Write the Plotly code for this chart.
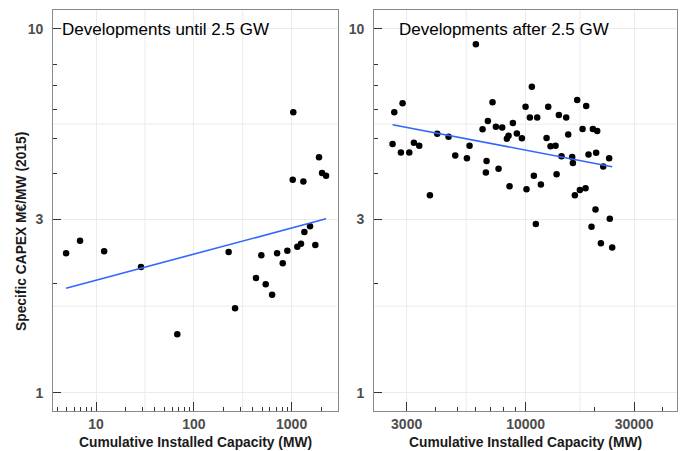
import numpy as np
import plotly.graph_objects as go

# ---------------- data ----------------
left_x = [4.94, 6.86, 12.1, 28.8, 67.7, 227, 264, 432, 490, 543, 631, 710, 811, 904,
          1143, 1247, 1350, 1542, 1747, 1040, 1026, 1318, 1905, 2046, 2249]
left_y = [2.42, 2.62, 2.45, 2.22, 1.45, 2.44, 1.71, 2.07, 2.39, 1.99, 1.86, 2.42, 2.27, 2.46,
          2.52, 2.57, 2.77, 2.87, 2.55, 5.90, 3.85, 3.81, 4.44, 4.02, 3.95]

right_x = [2647, 2879, 2602, 2831, 3081, 3228, 3408, 3797, 4089, 4585, 4906, 5521, 5671, 6045,
           6468, 6824, 7155, 6736, 6690, 7402, 7604, 7889, 8274, 8414, 8500, 8790, 9155, 9630,
           9993, 10090, 10440, 10650, 10870, 11245, 11090, 11670, 12360, 12570, 12870, 13540,
           13680, 14000, 14380, 15080, 15390, 16020, 16130, 16460, 16850, 17320, 17790, 18340,
           18460, 18900, 19750, 20280, 20420, 20640, 21930, 23290, 23440, 19480, 21420, 24020]
right_y = [5.90, 6.25, 4.83, 4.58, 4.58, 4.87, 4.78, 3.49, 5.15, 5.06, 4.49, 4.41, 4.78, 9.08,
           5.30, 5.59, 6.29, 4.34, 4.03, 5.39, 4.13, 5.36, 4.99, 5.09, 3.70, 5.52, 5.16, 5.01,
           6.11, 3.63, 5.71, 6.94, 3.95, 5.71, 2.91, 3.74, 5.02, 6.11, 4.76, 4.78,
           3.99, 5.80, 4.47, 5.71, 5.13, 4.45, 4.28, 3.49, 6.38, 3.61, 5.31, 3.65,
           6.14, 4.52, 5.31, 3.19, 4.57, 5.24, 4.19, 4.41, 3.01, 2.86, 2.58, 2.51]

left_title = "Developments until 2.5 GW"
right_title = "Developments after 2.5 GW"
y_label = "Specific CAPEX M€/MW (2015)"
x_label = "Cumulative Installed Capacity (MW)"

left_xticks = [10, 100, 1000]
right_xticks = [3000, 10000, 30000]
y_ticks = [1, 3, 10]
y_minor = [2, 4, 5, 6, 7, 8]
left_xminor = [4, 5, 6, 7, 8, 9, 20, 30, 40, 50, 60, 70, 80, 90,
               200, 300, 400, 500, 600, 700, 800, 900, 2000]
right_xminor = [4000, 5000, 6000, 7000, 8000, 9000, 20000, 40000]

# ---------------- fits (log-log linear model) ----------------
def loglog_fit(xs, ys):
    lx, ly = np.log10(xs), np.log10(ys)
    b, a = np.polyfit(lx, ly, 1)
    xx = np.linspace(lx.min(), lx.max(), 50)
    return 10 ** xx, 10 ** (a + b * xx)

lfx, lfy = loglog_fit(np.array(left_x), np.array(left_y))
rfx, rfy = loglog_fit(np.array(right_x), np.array(right_y))

fig = go.Figure()
pt = dict(color="black", size=6.5)
fig.add_trace(go.Scatter(x=left_x, y=left_y, mode="markers", marker=pt,
                         xaxis="x", yaxis="y", showlegend=False))
fig.add_trace(go.Scatter(x=lfx, y=lfy, mode="lines", line=dict(color="#3366FF", width=1.6),
                         xaxis="x", yaxis="y", showlegend=False))
fig.add_trace(go.Scatter(x=right_x, y=right_y, mode="markers", marker=pt,
                         xaxis="x2", yaxis="y2", showlegend=False))
fig.add_trace(go.Scatter(x=rfx, y=rfy, mode="lines", line=dict(color="#3366FF", width=1.6),
                         xaxis="x2", yaxis="y2", showlegend=False))

W, H = 684, 451
tickfont = dict(family="Liberation Sans", size=14, color="#4d4d4d", weight="bold")
grid = "#ebebeb"
axline = dict(showline=True, linecolor="#8a8a8a", linewidth=1.3, mirror=True,
              ticks="inside", tickcolor="#333333", tickwidth=1.1,
              showgrid=True, gridcolor=grid, gridwidth=1, zeroline=False,
              tickfont=tickfont)

yrng = [-0.0495, 1.052]
ydom = [40 / H, 1 - 10 / H]

def xaxis_cfg(rng, ticks, minor, dom):
    return dict(type="log", range=rng, domain=dom, tickmode="array", tickvals=ticks,
                ticktext=[str(t) for t in ticks], ticklen=9, ticklabelstandoff=0,
                minor=dict(tickmode="array", tickvals=minor, ticks="inside", ticklen=4,
                           tickcolor="#333333", tickwidth=1.1, showgrid=False),
                **axline)

def yaxis_cfg(dom, anchor):
    return dict(type="log", range=yrng, domain=dom, anchor=anchor, tickmode="array",
                tickvals=y_ticks, ticktext=[str(t) for t in y_ticks], ticklen=8,
                ticklabelstandoff=6,
                minor=dict(tickmode="array", tickvals=y_minor, ticks="inside", ticklen=4,
                           tickcolor="#333333", tickwidth=1.1, showgrid=False),
                **axline)

ldom = [53.3 / W, 337.5 / W]
rdom = [374.3 / W, 676.7 / W]

fig.update_layout(
    width=W, height=H, margin=dict(l=0, r=0, t=0, b=0),
    paper_bgcolor="white", plot_bgcolor="white",
    xaxis=dict(anchor="y", **xaxis_cfg([0.563, 3.469], left_xticks, left_xminor, ldom)),
    yaxis=yaxis_cfg(ydom, "x"),
    xaxis2=dict(anchor="y2", **xaxis_cfg([3.335, 4.664], right_xticks, right_xminor, rdom)),
    yaxis2=yaxis_cfg(ydom, "x2"),
)

# half-decade (minor) gridlines, geometric midpoints between labelled breaks
shapes = []
def mids(b):
    return [float(np.sqrt(b[i] * b[i + 1])) for i in range(len(b) - 1)]
for xr, yr, br in [("x", "y", left_xticks), ("x2", "y2", right_xticks)]:
    for v in mids(br):
        shapes.append(dict(type="line", xref=xr, yref=yr + " domain", x0=v, x1=v, y0=0, y1=1,
                           line=dict(color=grid, width=1), layer="below"))
    for v in mids(y_ticks):
        shapes.append(dict(type="line", xref=xr + " domain", yref=yr, x0=0, x1=1, y0=v, y1=v,
                           line=dict(color=grid, width=1), layer="below"))
fig.update_layout(shapes=shapes)

ann = []
ann.append(dict(text=left_title, xref="paper", yref="paper", x=60 / W, y=1 - 29 / H,
                xanchor="left", yanchor="middle", showarrow=False,
                font=dict(family="Liberation Sans", size=17, color="black")))
ann.append(dict(text=right_title, xref="paper", yref="paper", x=397 / W, y=1 - 29 / H,
                xanchor="left", yanchor="middle", showarrow=False,
                font=dict(family="Liberation Sans", size=17, color="black")))
lab_font = dict(family="Liberation Sans", size=13.8, color="#1a1a1a", weight="bold")
ann.append(dict(text=y_label, xref="paper", yref="paper", x=21 / W, y=1 - 232 / H,
                xanchor="center", yanchor="middle", textangle=-90, showarrow=False,
                font=lab_font))
ann.append(dict(text=x_label, xref="paper", yref="paper", x=195.4 / W, y=1 - 442.5 / H,
                xanchor="center", yanchor="middle", showarrow=False, font=lab_font))
ann.append(dict(text=x_label, xref="paper", yref="paper", x=525.5 / W, y=1 - 442.5 / H,
                xanchor="center", yanchor="middle", showarrow=False, font=lab_font))
fig.update_layout(annotations=ann)

fig.write_html("out.html")
